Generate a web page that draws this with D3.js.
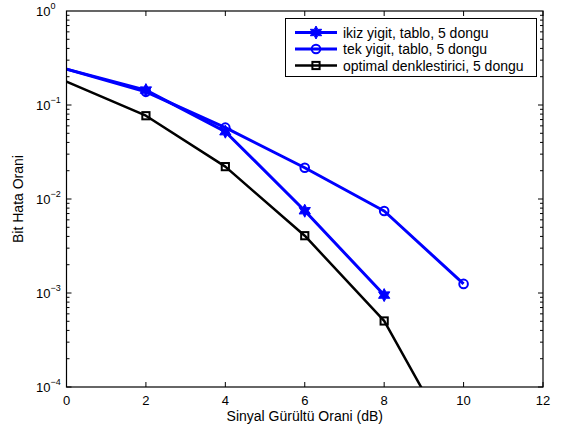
<!DOCTYPE html>
<html>
<head>
<meta charset="utf-8">
<script src="https://cdn.jsdelivr.net/npm/d3@7"></script>
<style>
  html, body { margin: 0; padding: 0; background: #fff; }
  svg { display: block; font-family: "Liberation Sans", Arial, Helvetica, sans-serif; }
</style>
</head>
<body>
<svg id="chart" width="564" height="432"></svg>
<script>
// SNR points (dB) and bit error rates for each receiver
const snrIkiz = [0, 2, 4, 6, 8];
const berIkiz = [0.241, 0.144, 0.052, 0.0075, 0.00095];

const snrTek = [0, 2, 4, 6, 8, 10];
const berTek = [0.241, 0.138, 0.0574, 0.0215, 0.00745, 0.00125];

const snrOpt = [0, 2, 4, 6, 8, 10];
const berOpt = [0.177, 0.0769, 0.0221, 0.00407, 0.000504, 0.0000155];

const seriesNames = [
  "ikiz yigit, tablo, 5 dongu",
  "tek yigit, tablo, 5 dongu",
  "optimal denklestirici, 5 dongu"
];
const xTicks = [0, 2, 4, 6, 8, 10, 12];
const yExponents = [0, -1, -2, -3, -4];

const svg = d3.select("#chart");
const plotLeft = 66.5, plotRight = 543, plotTop = 11, plotBottom = 387;

const x = d3.scaleLinear().domain([0, 12]).range([plotLeft, plotRight]);
const y = d3.scaleLog().domain([1e-4, 1]).range([plotBottom, plotTop]);

const blue = "#0000ff";
const labelSize = 14;
const tickSize = 13;

// clip region for the plotting area
svg.append("defs").append("clipPath").attr("id", "plotClip")
  .append("rect").attr("x", plotLeft).attr("y", plotTop)
  .attr("width", plotRight - plotLeft).attr("height", plotBottom - plotTop);

// ticks (inward, on all four sides)
const tickG = svg.append("g").attr("stroke", "#000").attr("stroke-width", 1);
xTicks.forEach(t => {
  tickG.append("line").attr("x1", x(t)).attr("x2", x(t)).attr("y1", plotBottom).attr("y2", plotBottom - 5);
  tickG.append("line").attr("x1", x(t)).attr("x2", x(t)).attr("y1", plotTop).attr("y2", plotTop + 5);
});
for (let e = -4; e < 0; e++) {
  for (let m = 1; m < 10; m++) {
    const v = m * Math.pow(10, e);
    const len = m === 1 ? 5 : 3;
    tickG.append("line").attr("x1", plotLeft).attr("x2", plotLeft + len).attr("y1", y(v)).attr("y2", y(v));
    tickG.append("line").attr("x1", plotRight).attr("x2", plotRight - len).attr("y1", y(v)).attr("y2", y(v));
  }
}

// tick labels
const xl = svg.append("g").attr("font-size", tickSize).attr("text-anchor", "middle").attr("fill", "#000");
xTicks.forEach(t => {
  xl.append("text").attr("x", x(t)).attr("y", plotBottom + 18).text(t);
});
const yl = svg.append("g").attr("font-size", tickSize).attr("fill", "#000");
yExponents.forEach(e => {
  const yy = y(Math.pow(10, e));
  const t = yl.append("text").attr("x", plotLeft - 30.5).attr("y", yy + 4.5);
  t.append("tspan").text("10");
  t.append("tspan").attr("font-size", 9).attr("dy", -6.5).text(e === 0 ? "0" : "\u2212" + (-e));
});

// axis titles
svg.append("text").attr("x", (plotLeft + plotRight) / 2).attr("y", 421)
  .attr("text-anchor", "middle").attr("font-size", labelSize).text("Sinyal Gürültü Orani (dB)");
svg.append("text").attr("transform", `translate(23,${(plotTop + plotBottom) / 2}) rotate(-90)`)
  .attr("text-anchor", "middle").attr("font-size", labelSize).text("Bit Hata Orani");

// six-pointed star marker
function hexagram(r) {
  const pts = [];
  for (let i = 0; i < 12; i++) {
    const a = -Math.PI / 2 + i * Math.PI / 6;
    const rr = i % 2 === 0 ? r : r * 0.55;
    pts.push([rr * Math.cos(a), rr * Math.sin(a)]);
  }
  return "M" + pts.map(p => p.join(",")).join("L") + "Z";
}

const line = d3.line();
const plot = svg.append("g").attr("clip-path", "url(#plotClip)");

function drawMarker(g, cx, cy, color, marker) {
  if (marker === "star") {
    g.append("path").attr("d", hexagram(6.5)).attr("transform", `translate(${cx},${cy})`)
      .attr("fill", color).attr("stroke", color).attr("stroke-width", 1);
  } else if (marker === "circle") {
    g.append("circle").attr("cx", cx).attr("cy", cy).attr("r", 4.3)
      .attr("fill", "none").attr("stroke", color).attr("stroke-width", 2);
  } else {
    g.append("rect").attr("x", cx - 3.6).attr("y", cy - 3.6).attr("width", 7.2).attr("height", 7.2)
      .attr("fill", "none").attr("stroke", color).attr("stroke-width", 2);
  }
}

function drawSeries(xs, ys, color, width, marker) {
  const pts = xs.map((d, i) => [x(d), y(ys[i])]);
  plot.append("path").attr("d", line(pts)).attr("fill", "none")
    .attr("stroke", color).attr("stroke-width", width).attr("stroke-linejoin", "round");
  pts.forEach(p => {
    if (p[0] <= plotLeft + 0.5) return;
    drawMarker(plot, p[0], p[1], color, marker);
  });
}

drawSeries(snrOpt, berOpt, "#000", 2.5, "square");
drawSeries(snrTek, berTek, blue, 3, "circle");
drawSeries(snrIkiz, berIkiz, blue, 3, "star");

// axes box
svg.append("rect").attr("x", plotLeft).attr("y", plotTop).attr("width", plotRight - plotLeft).attr("height", plotBottom - plotTop)
  .attr("fill", "none").attr("stroke", "#000").attr("stroke-width", 1.2);

// legend
const lg = svg.append("g");
lg.append("rect").attr("x", 285.5).attr("y", 18.5).attr("width", 251).attr("height", 58)
  .attr("fill", "#fff").attr("stroke", "#000").attr("stroke-width", 1);
const legendItems = [
  { color: blue, w: 3, marker: "star" },
  { color: blue, w: 3, marker: "circle" },
  { color: "#000", w: 2.5, marker: "square" }
];
legendItems.forEach((it, i) => {
  const yy = 32.5 + i * 16.5;
  lg.append("line").attr("x1", 295).attr("x2", 337).attr("y1", yy).attr("y2", yy)
    .attr("stroke", it.color).attr("stroke-width", it.w);
  drawMarker(lg, 316, yy, it.color, it.marker);
  lg.append("text").attr("x", 343).attr("y", yy + 5).attr("font-size", labelSize).text(seriesNames[i]);
});
</script>
</body>
</html>
